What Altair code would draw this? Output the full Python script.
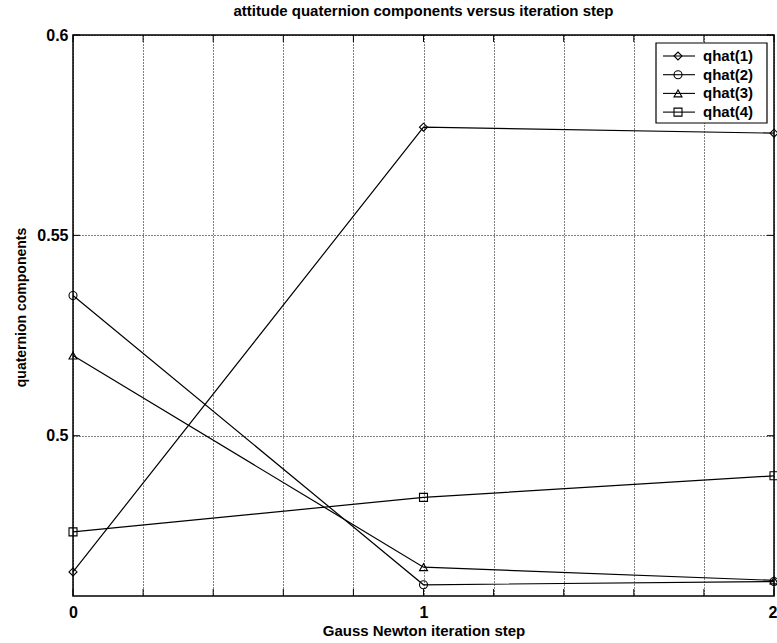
import altair as alt
import pandas as pd

# Gauss-Newton iterations and the four quaternion components at each step
steps = [0, 1, 2]
series_names = ["qhat(1)", "qhat(2)", "qhat(3)", "qhat(4)"]
qhat1 = [0.466, 0.577, 0.5755]
qhat2 = [0.535, 0.4628, 0.4636]
qhat3 = [0.520, 0.4672, 0.4639]
qhat4 = [0.476, 0.4846, 0.4900]
marker_shapes = ["diamond", "circle", "triangle-up", "square"]

x_ticks = [0, 0.2, 0.4, 0.6, 0.8, 1.0, 1.2, 1.4, 1.6, 1.8, 2.0]
y_ticks = [0.5, 0.55, 0.6]
x_domain = [0, 2]
y_domain = [0.46, 0.6]

W, H = 701, 561
FONT = "Liberation Sans"

rows = []
for name, vals in zip(series_names, [qhat1, qhat2, qhat3, qhat4]):
    for s, v in zip(steps, vals):
        rows.append({"series": name, "step": s, "value": v})
df = pd.DataFrame(rows)

x_enc = alt.X(
    "step:Q",
    title="Gauss Newton iteration step",
    scale=alt.Scale(domain=x_domain, nice=False, zero=False),
    axis=alt.Axis(
        values=x_ticks,
        labelExpr="abs(datum.value - round(datum.value)) < 1e-6 ? format(datum.value, 'd') : ''",
        labelAlign=alt.expr("datum.value >= 2 ? 'right' : 'center'"),
        labelOffset=alt.expr("datum.value >= 2 ? 3 : 0"),
        grid=True, gridColor="black", gridDash=[1, 2], gridOpacity=1, gridWidth=1,
        ticks=False, domain=False, labelFlush=False,
        labelFont=FONT, labelFontSize=16, labelFontWeight="bold", labelColor="black",
        labelPadding=8,
        titleFont=FONT, titleFontSize=15, titleFontWeight="bold", titleColor="black",
        titlePadding=3,
    ),
)
y_enc = alt.Y(
    "value:Q",
    title="quaternion components",
    scale=alt.Scale(domain=y_domain, nice=False, zero=False),
    axis=alt.Axis(
        values=y_ticks, format="~g",
        grid=True, gridColor="black", gridDash=[1, 2], gridOpacity=1, gridWidth=1,
        ticks=False, domain=False, labelFlush=False,
        labelFont=FONT, labelFontSize=16, labelFontWeight="bold", labelColor="black",
        labelPadding=5,
        titleFont=FONT, titleFontSize=14, titleFontWeight="bold", titleColor="black",
        titleX=-48, titleY=272, titleBaseline="alphabetic", titleAlign="center",
    ),
)

lines = alt.Chart(df).mark_line(color="black", strokeWidth=1.2).encode(
    x=x_enc, y=y_enc, detail="series:N"
)
points = alt.Chart(df).mark_point(
    filled=False, color="black", size=64, strokeWidth=1.1, opacity=1
).encode(
    x=x_enc, y=y_enc,
    shape=alt.Shape("series:N", scale=alt.Scale(domain=series_names, range=marker_shapes), legend=None),
)

# inner tick marks on all four sides of the box
xt = pd.DataFrame({"step": x_ticks})
yt = pd.DataFrame({"value": y_ticks})
tick_len = 7
ticks_bottom = alt.Chart(xt).mark_rule(color="black").encode(
    x=x_enc, y=alt.value(H), y2=alt.value(H - tick_len))
ticks_top = alt.Chart(xt).mark_rule(color="black").encode(
    x=x_enc, y=alt.value(0), y2=alt.value(tick_len))
ticks_left = alt.Chart(yt).mark_rule(color="black").encode(
    y=y_enc, x=alt.value(0), x2=alt.value(tick_len))
ticks_right = alt.Chart(yt).mark_rule(color="black").encode(
    y=y_enc, x=alt.value(W), x2=alt.value(W - tick_len))

# legend box in the upper right corner
one = pd.DataFrame({"k": [0]})
legend_layers = [
    alt.Chart(one).mark_rect(fill="white", stroke="black", strokeWidth=1.2).encode(
        x=alt.value(583), x2=alt.value(694), y=alt.value(8), y2=alt.value(88))
]
for i, (name, shp) in enumerate(zip(series_names, marker_shapes)):
    ly = 21 + i * 18.7
    row = pd.DataFrame({"label": [name]})
    legend_layers.append(alt.Chart(row).mark_rule(color="black", strokeWidth=1.1).encode(
        x=alt.value(590), x2=alt.value(622), y=alt.value(ly)))
    legend_layers.append(alt.Chart(row).mark_point(
        shape=shp, filled=False, color="black", size=64, strokeWidth=1.1, opacity=1
    ).encode(x=alt.value(605), y=alt.value(ly)))
    legend_layers.append(alt.Chart(row).mark_text(
        align="left", baseline="middle", font=FONT, fontSize=15, fontWeight="bold", color="black"
    ).encode(x=alt.value(630), y=alt.value(ly), text="label:N"))

chart = alt.layer(
    lines, points, ticks_bottom, ticks_top, ticks_left, ticks_right, *legend_layers
).properties(
    width=W, height=H,
    title=alt.TitleParams(
        "attitude quaternion components versus iteration step",
        font=FONT, fontSize=15, fontWeight="bold", color="black", anchor="middle", offset=8,
    ),
    autosize=alt.AutoSizeParams(type="none"),
    padding={"left": 73, "top": 35, "right": 3, "bottom": 47},
    background="white",
).configure_view(stroke="black", strokeWidth=1.5)

chart.save("out.html", embed_options={"renderer": "svg", "actions": False})
